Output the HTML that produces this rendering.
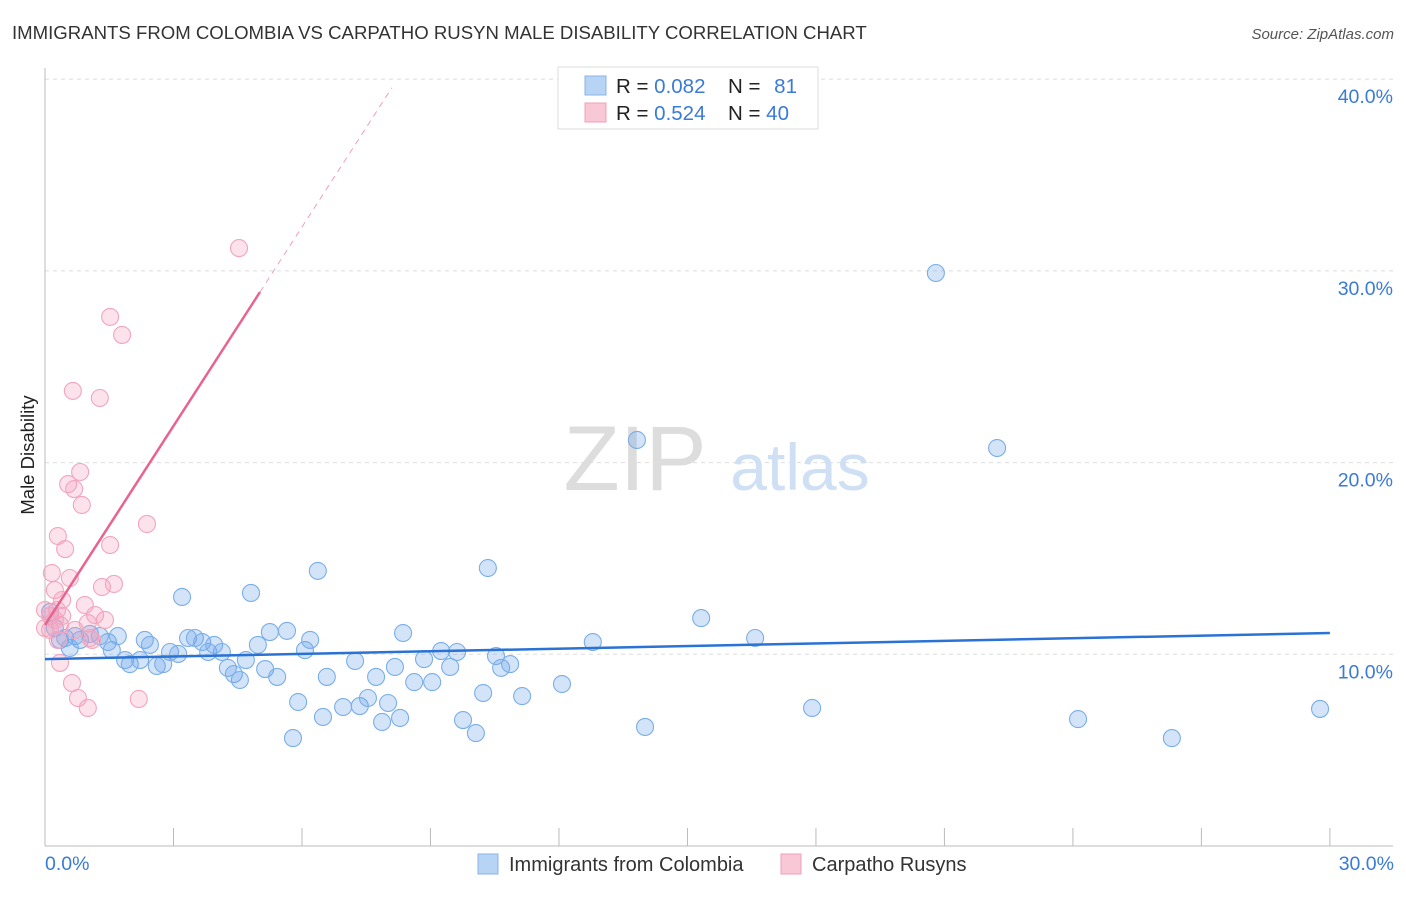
<!DOCTYPE html>
<html><head><meta charset="utf-8"><style>
body{margin:0;background:#fff;font-family:"Liberation Sans",sans-serif;}
svg text{font-family:"Liberation Sans",sans-serif;}
</style></head><body>
<svg id="chart" width="1406" height="892" xmlns="http://www.w3.org/2000/svg">
<text x="12" y="39" font-size="18.6" fill="#333">IMMIGRANTS FROM COLOMBIA VS CARPATHO RUSYN MALE DISABILITY CORRELATION CHART</text>
<text x="1394" y="39" font-size="15" fill="#555" font-style="italic" text-anchor="end">Source: ZipAtlas.com</text>
<g id="grid"></g>
<g>
<text x="635" y="490" font-size="92" fill="#ddd" font-family="Liberation Serif" text-anchor="middle">ZIP</text>
<text x="800" y="490" font-size="66" fill="#cfe0f5" text-anchor="middle">atlas</text>
</g>
<g id="axes"></g>
<g id="pts"></g>
<g id="trends"></g>
<text transform="translate(34,455) rotate(-90)" font-size="18.5" fill="#222" text-anchor="middle">Male Disability</text>
<text x="45" y="870" font-size="19.5" fill="#3a7bd5">0.0%</text>
<text x="1394" y="870" font-size="19.5" fill="#3a7bd5" text-anchor="end">30.0%</text>
<g>
<rect x="558" y="67" width="260" height="62" fill="#fff" stroke="#ddd"/>
<rect x="585" y="76" width="21" height="19" fill="#b8d4f5" stroke="#8ab4e8"/>
<rect x="585" y="103" width="21" height="19" fill="#f9c8d6" stroke="#f0a0b8"/>
<text x="616" y="93" font-size="20.5" fill="#222">R = <tspan fill="#3a7bd5">0.082</tspan></text>
<text x="728" y="93" font-size="20.5" fill="#222">N = <tspan fill="#3a7bd5" dx="8">81</tspan></text>
<text x="616" y="120" font-size="20.5" fill="#222">R = <tspan fill="#3a7bd5">0.524</tspan></text>
<text x="728" y="120" font-size="20.5" fill="#222">N = <tspan fill="#3a7bd5">40</tspan></text>
</g>
<g>
<rect x="478" y="854" width="20" height="20" fill="#b8d4f5" stroke="#8ab4e8"/>
<text x="509" y="871" font-size="20" fill="#333">Immigrants from Colombia</text>
<rect x="781" y="854" width="20" height="20" fill="#f9c8d6" stroke="#f0a0b8"/>
<text x="812" y="871" font-size="20" fill="#333">Carpatho Rusyns</text>
</g>
</svg>
<script>
const blueX=[0.12,0.23,0.35,0.47,0.70,0.82,1.05,1.28,1.47,1.56,1.70,1.87,1.98,2.33,2.45,2.61,2.76,2.92,3.11,3.20,3.34,3.50,3.67,3.81,3.95,4.13,4.27,4.41,4.55,4.69,4.81,4.97,5.14,5.25,5.42,5.65,5.79,5.91,6.07,6.19,6.37,6.49,6.58,6.96,7.24,7.35,7.54,7.73,7.87,8.01,8.17,8.29,8.36,8.62,8.85,9.04,9.25,9.46,9.62,9.76,10.06,10.23,10.34,10.53,10.65,10.86,11.14,12.07,12.79,13.82,14.01,15.32,16.58,17.91,20.80,22.23,24.12,26.31,29.77,0.58,2.22];
const blueY=[12.21,11.37,10.75,10.85,10.95,10.75,11.06,10.95,10.64,10.22,10.95,9.70,9.49,10.75,10.49,9.39,9.49,10.12,10.02,12.99,10.85,10.85,10.64,10.12,10.49,10.12,9.29,8.97,8.66,9.70,13.20,10.49,9.23,11.16,8.82,11.22,5.63,7.51,10.22,10.75,14.35,6.73,8.82,7.25,9.65,7.30,7.72,8.82,6.47,7.46,9.34,6.68,11.11,8.55,9.75,8.55,10.17,9.34,10.12,6.57,5.89,7.98,14.50,9.91,9.29,9.49,7.82,8.45,10.64,21.18,6.21,11.89,10.85,7.20,29.89,20.76,6.62,5.63,7.15,10.33,9.70];
const pinkX=[0,0.12,0.16,0.23,0.28,0.35,0.30,0.47,0.54,0.58,0.35,0.63,0.68,0.65,0.82,0.86,0.77,0.93,1.00,1.00,1.05,1.28,1.33,1.40,1.52,1.52,1.61,1.80,2.19,2.38,4.53,0.12,0.40,0.23,0.70,1.17,0.40,0,0.30,1.10];
const pinkY=[12.31,11.27,14.24,13.35,12.31,11.53,16.17,15.49,18.88,13.98,9.55,8.50,18.62,23.74,19.51,17.79,7.72,12.57,7.20,11.63,10.85,23.37,13.51,11.79,15.70,27.60,13.67,26.66,7.67,16.80,31.19,12.00,12.00,11.79,11.27,12.05,12.83,11.37,10.75,10.75];
const yTicks=[10,20,30,40];
const xTicks=[0,3,6,9,12,15,18,21,24,27,30];
const blueTrend=[9.75,11.11];   // y at x=0 and x=30
const pinkTrend={b:11.53,m:3.46,solidEnd:5.02,dashEnd:8.1};

const X=v=>45+v*42.83, Y=v=>846-v*19.17;
const NS='http://www.w3.org/2000/svg';
function mk(t,a,p){const e=document.createElementNS(NS,t);for(const k in a)e.setAttribute(k,a[k]);p.appendChild(e);return e;}
const grid=document.getElementById('grid'),axes=document.getElementById('axes'),pts=document.getElementById('pts'),tr=document.getElementById('trends');
yTicks.forEach(t=>{
  const l=mk('line',{x1:45,x2:1393,y1:Y(t),y2:Y(t),stroke:'#ddd','stroke-dasharray':'4,4'},grid);
  
  
  const tx=mk('text',{x:1393,y:Y(t)+24,'font-size':19.5,fill:'#3a7bd5','text-anchor':'end'},grid);
  tx.textContent=t.toFixed(1)+'%';
  
  
});
let a=mk('line',{x1:45,x2:45,y1:68,y2:846,stroke:'#bbb'},axes);


a=mk('line',{x1:45,x2:1393,y1:846,y2:846,stroke:'#bbb'},axes);


xTicks.forEach(t=>{
  const l=mk('line',{x1:X(t),x2:X(t),y1:828,y2:846,stroke:'#bbb'},axes);
  
  
});
blueX.forEach((x,i)=>{
  const c=mk('circle',{cx:X(x),cy:Y(blueY[i]),r:8.5,fill:'rgba(110,165,235,0.3)',stroke:'#7aaee8','stroke-width':1.1},pts);
  
  
});
pinkX.forEach((x,i)=>{
  const c=mk('circle',{cx:X(x),cy:Y(pinkY[i]),r:8.5,fill:'rgba(245,160,190,0.3)',stroke:'#f2a5bd','stroke-width':1.1},pts);
  
  
});
let t=mk('line',{x1:X(0),y1:Y(blueTrend[0]),x2:X(30),y2:Y(blueTrend[1]),stroke:'#2a72d4','stroke-width':2.5},tr);


const pk=pinkTrend;
t=mk('line',{x1:X(0),y1:Y(pk.b),x2:X(pk.solidEnd),y2:Y(pk.b+pk.m*pk.solidEnd),stroke:'#e8648e','stroke-width':2.5},tr);


t=mk('line',{x1:X(pk.solidEnd),y1:Y(pk.b+pk.m*pk.solidEnd),x2:X(pk.dashEnd),y2:Y(pk.b+pk.m*pk.dashEnd),stroke:'#eea0b8','stroke-width':1,'stroke-dasharray':'6,5'},tr);


</script>
</body></html>
